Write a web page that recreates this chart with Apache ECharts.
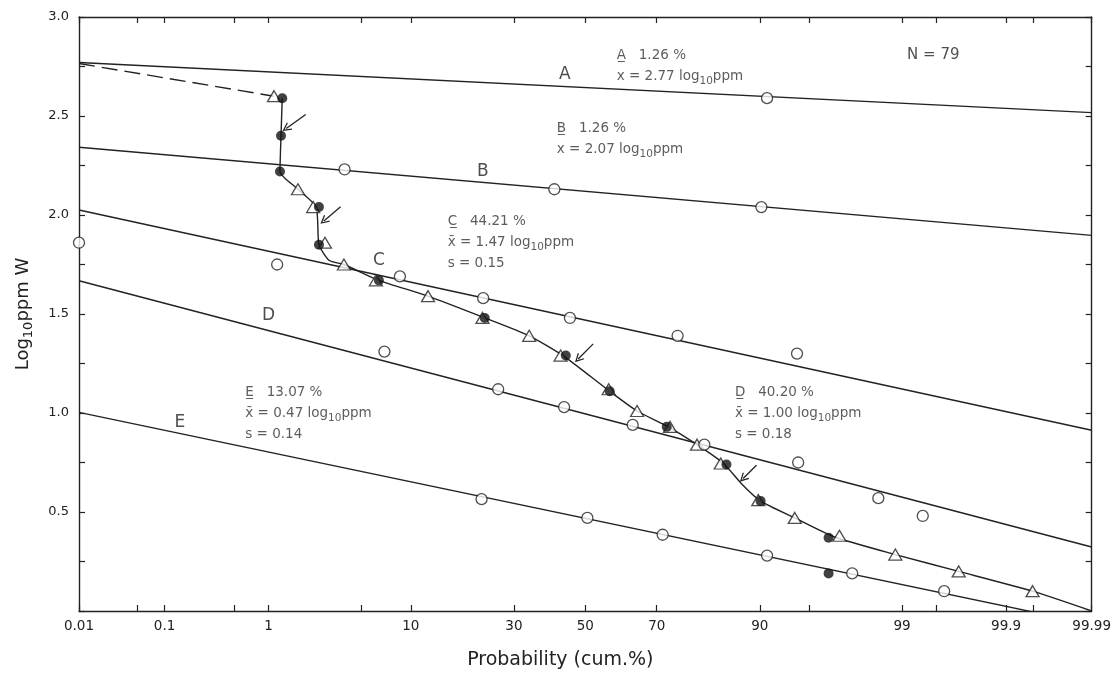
<!DOCTYPE html>
<html>
<head>
<meta charset="utf-8">
<script src="https://cdn.jsdelivr.net/npm/echarts@6/dist/echarts.min.js"></script>
<style>
html,body{margin:0;padding:0;background:#fff;}
#chart{width:1114px;height:675px;}
</style>
</head>
<body>
<div id="chart"></div>
<script>
// ---------- data (probability in cumulative %, value in log10 ppm W) ----------
const xTickLabels = [0.01, 0.1, 1, 10, 30, 50, 70, 90, 99, 99.9, 99.99];
const xMinorTicks = [0.05, 0.5, 5, 95, 99.5, 99.95];
const yTickLabels = [0.5, 1.0, 1.5, 2.0, 2.5, 3.0];

// straight population lines: value at 0.01 % and at 99.99 %
const lineA = [2.77, 2.517];
const lineB = [2.342, 1.897];
const lineC = [2.025, 0.913];
const lineD = [1.668, 0.323];
const lineE = [1.003, -0.067];

const openCircles = [
  [0.01, 1.86], [1.18, 1.75], [3.85, 2.23], [41.0, 2.13], [90.2, 2.04], [90.9, 2.59],
  [8.66, 1.69], [22.65, 1.58], [45.5, 1.48], [75.1, 1.39], [94.0, 1.30],
  [7.0, 1.31], [26.1, 1.12], [43.8, 1.03], [63.6, 0.94], [80.9, 0.84], [94.1, 0.75],
  [98.43, 0.57], [99.34, 0.48],
  [22.3, 0.565], [50.6, 0.47], [71.5, 0.385], [90.9, 0.28], [97.5, 0.19], [99.58, 0.10]
];
const filledCircles = [
  [1.30, 2.59], [1.27, 2.40], [1.245, 2.22], [2.52, 2.04], [2.52, 1.85], [6.47, 1.67],
  [23.0, 1.48], [44.3, 1.29], [57.1, 1.11], [72.5, 0.93], [85.0, 0.74], [90.1, 0.555],
  [96.3, 0.37], [96.3, 0.19]
];
const triangles = [
  [1.11, 2.60], [1.74, 2.13], [2.28, 2.04], [2.79, 1.86], [3.81, 1.75], [6.2, 1.67],
  [12.4, 1.59], [22.5, 1.48], [34.0, 1.39], [42.8, 1.29], [56.8, 1.12], [64.8, 1.01],
  [73.3, 0.93], [79.4, 0.84], [84.0, 0.745], [89.8, 0.56], [93.8, 0.47], [96.9, 0.38],
  [98.86, 0.285], [99.695, 0.20], [99.949, 0.10]
];
const dashedCurve = [[0.01, 2.765], [1.11, 2.60]];
const curve = [
  [1.30, 2.59], [1.27, 2.40], [1.245, 2.22], [1.74, 2.13], [2.4, 2.04], [2.52, 1.85],
  [3.0, 1.77], [3.81, 1.75], [6.47, 1.67], [12.4, 1.59], [23.0, 1.48], [34.0, 1.39],
  [43.5, 1.29], [57.1, 1.11], [64.8, 1.01], [72.9, 0.93], [79.4, 0.84], [84.5, 0.745],
  [87.5, 0.64], [90.1, 0.555], [93.8, 0.47], [96.6, 0.375], [98.86, 0.285],
  [99.695, 0.20], [99.949, 0.10], [99.99, 0.0]
];
// arrows: [tail prob, tail value, head prob, head value]
const arrows = [
  [2.0, 2.508, 1.40, 2.437],
  [3.61, 2.042, 2.74, 1.97],
  [52.3, 1.349, 47.9, 1.273],
  [89.56, 0.736, 87.67, 0.669]
];
const lineNames = ['A', 'B', 'C', 'D', 'E'];
const lineNamePos = [[44.0, 2.71], [22.6, 2.22], [6.47, 1.77], [1.0, 1.49], [0.145, 0.95]];
const blockPos = [[59.1, 2.86], [41.7, 2.49], [15.6, 2.02], [86.4, 1.158], [0.625, 1.158]];
const blockPct = ['1.26 %', '1.26 %', '44.21 %', '40.20 %', '13.07 %'];
const blockMean = ['2.77', '2.07', '1.47', '1.00', '0.47'];
const blockSd = [null, null, '0.15', '0.18', '0.14'];
const nText = 'N = 79';
const nPos = [99.47, 2.81];

// ---------- normal probability scale ----------
function probit(p) {
  const a=[-3.969683028665376e+01,2.209460984245205e+02,-2.759285104469687e+02,1.383577518672690e+02,-3.066479806614716e+01,2.506628277459239e+00];
  const b=[-5.447609879822406e+01,1.615858368580409e+02,-1.556989798598866e+02,6.680131188771972e+01,-1.328068155288572e+01];
  const c=[-7.784894002430293e-03,-3.223964580411365e-01,-2.400758277161838e+00,-2.549732539343734e+00,4.374664141464968e+00,2.938163982698783e+00];
  const d=[7.784695709041462e-03,3.224671290700398e-01,2.445134137142996e+00,3.754408661907416e+00];
  const plow=0.02425, phigh=1-plow;
  let q, r;
  if (p < plow) { q=Math.sqrt(-2*Math.log(p)); return (((((c[0]*q+c[1])*q+c[2])*q+c[3])*q+c[4])*q+c[5])/((((d[0]*q+d[1])*q+d[2])*q+d[3])*q+1); }
  if (p <= phigh) { q=p-0.5; r=q*q; return (((((a[0]*r+a[1])*r+a[2])*r+a[3])*r+a[4])*r+a[5])*q/(((((b[0]*r+b[1])*r+b[2])*r+b[3])*r+b[4])*r+1); }
  q=Math.sqrt(-2*Math.log(1-p)); return -(((((c[0]*q+c[1])*q+c[2])*q+c[3])*q+c[4])*q+c[5])/((((d[0]*q+d[1])*q+d[2])*q+d[3])*q+1);
}
const X = p => probit(p / 100);
const pts = arr => arr.map(d => [X(d[0]), d[1]]);
const XMIN = X(0.01), XMAX = X(99.99);

const INK = '#222';
const FONT = 'DejaVu Sans';

function xLabelFor(v) {
  for (const l of xTickLabels) if (Math.abs(X(l) - v) < 1e-6) return String(l);
  return '';
}

const straightLines = [lineA, lineB, lineC, lineD, lineE].map((l, i) => ({
  type: 'line', name: 'line' + lineNames[i], z: 2,
  data: [[XMIN, l[0]], [XMAX, l[1]]],
  symbol: 'none', clip: true, silent: true,
  lineStyle: { color: INK, width: 1.4 }
}));

const rich = {
  u: { fontFamily: FONT, fontSize: 13.5, color: '#333', lineHeight: 21 },
  t: { fontFamily: FONT, fontSize: 13.5, color: '#333', lineHeight: 21 },
  s: { fontFamily: FONT, fontSize: 10.5, color: '#333', lineHeight: 21, verticalAlign: 'bottom' }
};
const blocks = lineNames.map((n, i) => {
  const xs = blockSd[i] === null ? 'x' : 'x\u0304';
  let txt = '{u|' + n + '\u0332}{t|   ' + blockPct[i] + '}\n{t|' + xs + ' = ' + blockMean[i] + ' log}{s|10}{t|ppm}';
  if (blockSd[i] !== null) txt += '\n{t|s = ' + blockSd[i] + '}';
  return { value: [X(blockPos[i][0]), blockPos[i][1]], txt };
});

const axisLineStyle = { show: true, onZero: false, lineStyle: { color: INK, width: 1.4 } };
const tickStyle = { color: INK, width: 1.2 };

const option = {
  animation: false,
  backgroundColor: '#fff',
  grid: { left: 79, right: 22, top: 17, bottom: 62, containLabel: false },
  xAxis: [{
    type: 'value', min: XMIN, max: XMAX, position: 'bottom',
    name: 'Probability (cum.%)', nameLocation: 'middle', nameGap: 40,
    nameTextStyle: { fontFamily: FONT, fontSize: 19, color: INK, padding: [0, 50, 0, 0] },
    axisLine: axisLineStyle,
    axisTick: { show: true, inside: true, length: 6, lineStyle: tickStyle,
      customValues: xTickLabels.concat(xMinorTicks).map(X) },
    axisLabel: { show: true, customValues: xTickLabels.map(X), formatter: xLabelFor,
      fontFamily: FONT, fontSize: 13.5, color: INK, margin: 8 },
    splitLine: { show: false }
  }, {
    type: 'value', min: XMIN, max: XMAX, position: 'top',
    axisLine: axisLineStyle,
    axisTick: { show: true, inside: true, length: 6, lineStyle: tickStyle,
      customValues: xTickLabels.concat(xMinorTicks).map(X) },
    axisLabel: { show: false },
    splitLine: { show: false }
  }],
  yAxis: [{
    type: 'value', min: 0, max: 3, interval: 0.25, position: 'left',
    name: '{a|Log}{b|10}{a|ppm W}', nameLocation: 'middle', nameGap: 44, nameRotate: 90,
    nameTextStyle: { rich: {
      a: { fontFamily: FONT, fontSize: 18, color: INK, lineHeight: 24 },
      b: { fontFamily: FONT, fontSize: 13, color: INK, lineHeight: 24, verticalAlign: 'bottom' }
    } },
    axisLine: axisLineStyle,
    axisTick: { show: true, inside: true, length: 6, lineStyle: tickStyle },
    axisLabel: { fontFamily: FONT, fontSize: 13, color: INK, margin: 10,
      formatter: v => yTickLabels.some(t => Math.abs(t - v) < 1e-9) ? v.toFixed(1) : '' },
    splitLine: { show: false }
  }, {
    type: 'value', min: 0, max: 3, interval: 0.25, position: 'right',
    axisLine: axisLineStyle,
    axisTick: { show: true, inside: true, length: 6, lineStyle: tickStyle },
    axisLabel: { show: false },
    splitLine: { show: false }
  }],
  series: straightLines.concat([
    { type: 'line', name: 'dashed', z: 2, data: pts(dashedCurve), symbol: 'none', silent: true,
      lineStyle: { color: INK, width: 1.4, type: [16, 7] } },
    { type: 'line', name: 'curve', z: 2, data: pts(curve), symbol: 'none', smooth: 0.2, silent: true,
      lineStyle: { color: INK, width: 1.4 } },
    { type: 'line', name: 'arrows', data: [], silent: true,
      markLine: { silent: true, symbol: ['none', 'path://M10,0 L20,16 L17.5,17 L10,5 L2.5,17 L0,16 Z'],
        symbolSize: [9, 9], label: { show: false },
        lineStyle: { color: INK, width: 1.3, type: 'solid' },
        data: arrows.map(a => [{ coord: [X(a[0]), a[1]] }, { coord: [X(a[2]), a[3]] }]) } },
    { type: 'scatter', name: 'triangles', z: 4, data: pts(triangles), symbol: 'triangle', symbolSize: [13, 11],
      itemStyle: { color: '#fff', borderColor: INK, borderWidth: 1.3 } },
    { type: 'scatter', name: 'filled', z: 5, data: pts(filledCircles), symbol: 'circle', symbolSize: 10,
      itemStyle: { color: '#111' } },
    { type: 'scatter', name: 'open', z: 5, data: pts(openCircles), symbol: 'circle', symbolSize: 11,
      itemStyle: { color: '#fff', borderColor: INK, borderWidth: 1.3 } },
    { type: 'scatter', name: 'lineNames', z: 6, symbolSize: 0, silent: true,
      data: lineNamePos.map((p, i) => ({ value: [X(p[0]), p[1]], name: lineNames[i] })),
      label: { show: true, position: 'inside', formatter: '{b}', fontFamily: FONT, fontSize: 17, color: INK } },
    { type: 'scatter', name: 'blocks', z: 6, symbolSize: 0, silent: true,
      data: blocks.map(b => ({ value: b.value, name: b.txt })),
      label: { show: true, position: [0, 0], align: 'left', verticalAlign: 'top', formatter: '{b}', rich } },
    { type: 'scatter', name: 'N', z: 6, symbolSize: 0, silent: true,
      data: [{ value: [X(nPos[0]), nPos[1]], name: nText }],
      label: { show: true, position: 'inside', formatter: '{b}', fontFamily: FONT, fontSize: 15, color: INK } }
  ])
};

const chart = echarts.init(document.getElementById('chart'), null, { renderer: 'canvas' });
chart.setOption(option);
</script>
</body>
</html>
